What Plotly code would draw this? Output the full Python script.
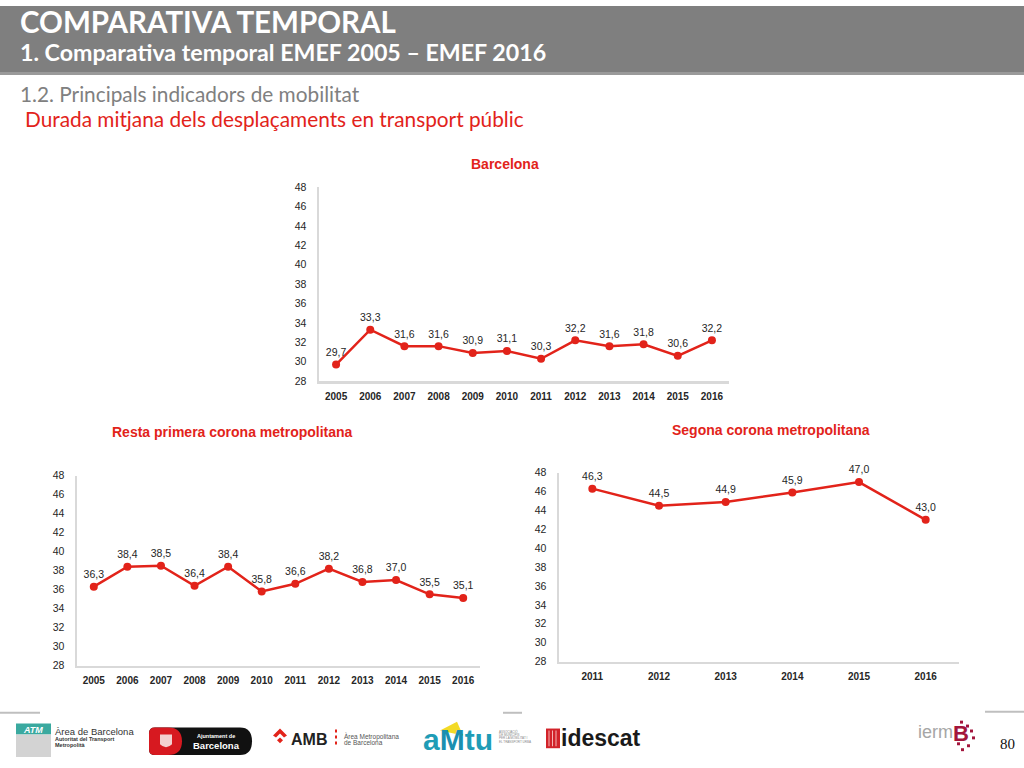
import plotly.graph_objects as go

# ---------------- data ----------------
years_bcn = ["2005", "2006", "2007", "2008", "2009", "2010", "2011", "2012", "2013", "2014", "2015", "2016"]
vals_bcn = [29.7, 33.3, 31.6, 31.6, 30.9, 31.1, 30.3, 32.2, 31.6, 31.8, 30.6, 32.2]

years_resta = ["2005", "2006", "2007", "2008", "2009", "2010", "2011", "2012", "2013", "2014", "2015", "2016"]
vals_resta = [36.3, 38.4, 38.5, 36.4, 38.4, 35.8, 36.6, 38.2, 36.8, 37.0, 35.5, 35.1]

years_seg = ["2011", "2012", "2013", "2014", "2015", "2016"]
vals_seg = [46.3, 44.5, 44.9, 45.9, 47.0, 43.0]

y_ticks = [28, 30, 32, 34, 36, 38, 40, 42, 44, 46, 48]

titles = ["Barcelona", "Resta primera corona metropolitana", "Segona corona metropolitana"]

W, H = 1024, 768
RED = "#e2231a"
TXT = "#262626"
AX = "#d9d9d9"


def px(x):
    return x / W


def py(y):
    return 1 - y / H


def fmt(v):
    return f"{v:.1f}".replace(".", ",")


fig = go.Figure()

charts = [
    # (cats, vals, x0, x1, ytop, ybottom, title_x, title_y)
    (years_bcn, vals_bcn, 319, 729, 184, 381, 505, 161),
    (years_resta, vals_resta, 77, 480, 477, 670, 232, 433),
    (years_seg, vals_seg, 559, 959, 474, 666, 771, 431),
]

layout_axes = {}
annotations = []
for i, (cats, vals, x0, x1, yt, yb, tx, ty) in enumerate(charts, start=1):
    sfx = "" if i == 1 else str(i)
    fig.add_trace(go.Scatter(
        x=cats, y=vals,
        xaxis="x" + sfx, yaxis="y" + sfx,
        mode="lines+markers+text",
        line=dict(color=RED, width=2.5),
        marker=dict(color=RED, size=8),
        text=[fmt(v) for v in vals],
        textposition="top center",
        textfont=dict(family="Liberation Sans, Arial", size=10.5, color="#262626"),
        cliponaxis=False,
        showlegend=False,
        hoverinfo="skip",
    ))
    layout_axes["xaxis" + sfx] = dict(
        domain=[px(x0), px(x1)],
        anchor="y" + sfx,
        type="category",
        range=[-0.5, len(cats) - 0.5],
        showgrid=False, zeroline=False,
        showline=True, linecolor=AX, linewidth=2.5,
        ticks="", ticklabelstandoff=4,
        tickfont=dict(family="Liberation Sans, Arial", size=10, color=TXT, weight="bold"),
        fixedrange=True,
    )
    layout_axes["yaxis" + sfx] = dict(
        domain=[py(yb), py(yt)],
        anchor="x" + sfx,
        range=[28, 48],
        tickvals=y_ticks,
        ticktext=[str(t) for t in y_ticks],
        showgrid=False, zeroline=False,
        showline=True, linecolor=AX, linewidth=2.5,
        ticks="", ticklabelstandoff=8,
        tickfont=dict(family="Liberation Sans, Arial", size=10.5, color=TXT),
        fixedrange=True,
    )
    annotations.append(dict(
        x=px(tx), y=py(ty), xref="paper", yref="paper",
        text="<b>" + titles[i - 1] + "</b>", showarrow=False,
        xanchor="center", yanchor="middle",
        font=dict(family="Liberation Sans, Arial", size=14, color=RED),
    ))

shapes = []
# header bar
shapes.append(dict(type="rect", xref="paper", yref="paper", x0=0, x1=1, y0=py(70), y1=py(66),
                   fillcolor="#9a9a9a", line=dict(width=0), layer="below"))
shapes.append(dict(type="rect", xref="paper", yref="paper", x0=0, x1=1, y0=py(67), y1=1,
                   fillcolor="#7f7f7f", line=dict(width=0), layer="below"))


def ann(x, y, text, size, color, family="Lato", xanchor="left", yanchor="middle"):
    annotations.append(dict(x=px(x), y=py(y), xref="paper", yref="paper", text=text,
                            showarrow=False, xanchor=xanchor, yanchor=yanchor,
                            font=dict(family=family, size=size, color=color)))


ann(18, 16, "<b>COMPARATIVA TEMPORAL</b>", 29.5, "white")
ann(18, 47, "<b>1. Comparativa temporal EMEF 2005 – EMEF 2016</b>", 23.2, "white")
ann(18, 89, "1.2. Principals indicadors de mobilitat", 20.8, "#808080")
ann(23, 114, "Durada mitjana dels desplaçaments en transport públic", 20.8, RED)

# footer separator lines
for (a, b, yy) in [(0, 40, 718), (503, 522, 718), (985, 1024, 717)]:
    shapes.append(dict(type="line", xref="paper", yref="paper", x0=px(a), x1=px(b), y0=py(yy), y1=py(yy),
                       line=dict(color="#bfbfbf", width=2)))

# ATM logo
shapes.append(dict(type="rect", xref="paper", yref="paper", x0=px(16), x1=px(51), y0=py(740), y1=py(729),
                   fillcolor="#3aa99f", line=dict(width=0)))
shapes.append(dict(type="rect", xref="paper", yref="paper", x0=px(16), x1=px(51), y0=py(763), y1=py(740),
                   fillcolor="#d3d3d3", line=dict(width=0)))
ann(33, 735, "<b><i>ATM</i></b>", 9, "white", family="Liberation Sans", xanchor="center")
ann(53, 737, "Àrea de Barcelona", 9.5, "#333333", family="Liberation Sans Narrow, Liberation Sans")
ann(53, 745, "<b>Autoritat del Transport</b>", 5.5, "#333333", family="Liberation Sans")
ann(53, 751, "<b>Metropolità</b>", 5.5, "#333333", family="Liberation Sans")

# Ajuntament de Barcelona logo
shapes.append(dict(type="path", xref="paper", yref="paper",
                   path=f"M {px(155)},{py(733)} L {px(240)},{py(733)} Q {px(252)},{py(733)} {px(252)},{py(747)} "
                        f"Q {px(252)},{py(761)} {px(240)},{py(761)} L {px(155)},{py(761)} "
                        f"Q {px(149)},{py(761)} {px(149)},{py(755)} L {px(149)},{py(739)} Q {px(149)},{py(733)} {px(155)},{py(733)} Z",
                   fillcolor="#111111", line=dict(width=0)))
shapes.append(dict(type="path", xref="paper", yref="paper",
                   path=f"M {px(155)},{py(733)} L {px(168)},{py(733)} Q {px(182)},{py(733)} {px(182)},{py(747)} "
                        f"Q {px(182)},{py(761)} {px(168)},{py(761)} L {px(155)},{py(761)} "
                        f"Q {px(149)},{py(761)} {px(149)},{py(755)} L {px(149)},{py(739)} Q {px(149)},{py(733)} {px(155)},{py(733)} Z",
                   fillcolor="#d71920", line=dict(width=0)))
shapes.append(dict(type="path", xref="paper", yref="paper",
                   path=f"M {px(160)},{py(740)} L {px(172)},{py(740)} L {px(172)},{py(750)} Q {px(166)},{py(756)} {px(160)},{py(750)} Z",
                   fillcolor="#f3d0d0", line=dict(width=0)))
ann(216, 742, "<b>Ajuntament de</b>", 5.5, "white", family="Liberation Sans", xanchor="center")
ann(216, 751, "<b>Barcelona</b>", 9.5, "white", family="Liberation Sans", xanchor="center")

# AMB logo
shapes.append(dict(type="path", xref="paper", yref="paper",
                   path=f"M {px(273)},{py(741)} L {px(280)},{py(734)} L {px(287)},{py(741)} L {px(284)},{py(743)} "
                        f"L {px(280)},{py(739)} L {px(276)},{py(743)} Z",
                   fillcolor="#e2231a", line=dict(width=0)))
shapes.append(dict(type="path", xref="paper", yref="paper",
                   path=f"M {px(277)},{py(746)} L {px(280)},{py(743)} L {px(283)},{py(746)} L {px(280)},{py(749)} Z",
                   fillcolor="#e2231a", line=dict(width=0)))
ann(289, 745, "<b>AMB</b>", 16, "#222222", family="Liberation Sans")
shapes.append(dict(type="line", xref="paper", yref="paper", x0=px(336), x1=px(336), y0=py(735), y1=py(753),
                   line=dict(color="#e2231a", width=2, dash="dot")))
ann(342, 742, "Àrea Metropolitana", 6.5, "#555555", family="Liberation Sans")
ann(342, 748, "de Barcelona", 6.5, "#555555", family="Liberation Sans")

# aMtu logo
shapes.append(dict(type="path", xref="paper", yref="paper",
                   path=f"M {px(440)},{py(736)} L {px(457)},{py(727)} L {px(463)},{py(741)} Z",
                   fillcolor="#f1d300", line=dict(width=0), opacity=0.85))
ann(421, 745, "<b>a<span style='color:#1b8fb0'>M</span>tu</b>", 30, "#1f9cb6", family="Liberation Sans")
for k, t in enumerate(["ASSOCIACIÓ", "DE MUNICIPIS", "PER LA MOBILITAT I", "EL TRANSPORT URBÀ"]):
    ann(497, 737 + k * 3.5, t, 3, "#888888", family="Liberation Sans")

# idescat logo
shapes.append(dict(type="rect", xref="paper", yref="paper", x0=px(546), x1=px(560), y0=py(754), y1=py(734),
                   fillcolor="#d2232a", line=dict(width=0)))
for sx in [549, 552.5, 556]:
    shapes.append(dict(type="line", xref="paper", yref="paper", x0=px(sx), x1=px(sx), y0=py(752), y1=py(736),
                       line=dict(color="#f5b5b5", width=1)))
ann(559, 744, "<b>idescat</b>", 23, "#1a1a1a", family="Liberation Sans")

# iermB logo
ann(916, 738, "ierm", 18, "#a6a6a6", family="Liberation Sans")
ann(951, 739, "<b>B</b>", 22, "#a3153c", family="Liberation Sans")
for (sx, sy) in [(960, 726), (966, 730), (970, 735), (972, 742), (967, 750), (961, 754), (957, 748)]:
    shapes.append(dict(type="rect", xref="paper", yref="paper", x0=px(sx), x1=px(sx + 3), y0=py(sy + 3), y1=py(sy),
                       fillcolor="#a3153c", line=dict(width=0)))

# page number
ann(1007, 750, "80", 15, "#111111", family="Liberation Serif", xanchor="center")

fig.update_layout(
    width=W, height=H,
    margin=dict(l=0, r=0, t=0, b=0),
    paper_bgcolor="white", plot_bgcolor="white",
    shapes=shapes, annotations=annotations,
    **layout_axes,
)

fig.write_html(
    "out.html",
    config={"displayModeBar": False, "staticPlot": True},
    post_script=(
        "var s=document.createElement('style');"
        "s.textContent='html,body{margin:0!important;padding:0!important;overflow:hidden!important}"
        ".plotly-graph-div{position:fixed!important;top:0!important;left:0!important;margin:0!important}';"
        "document.head.appendChild(s);"
    ),
)
